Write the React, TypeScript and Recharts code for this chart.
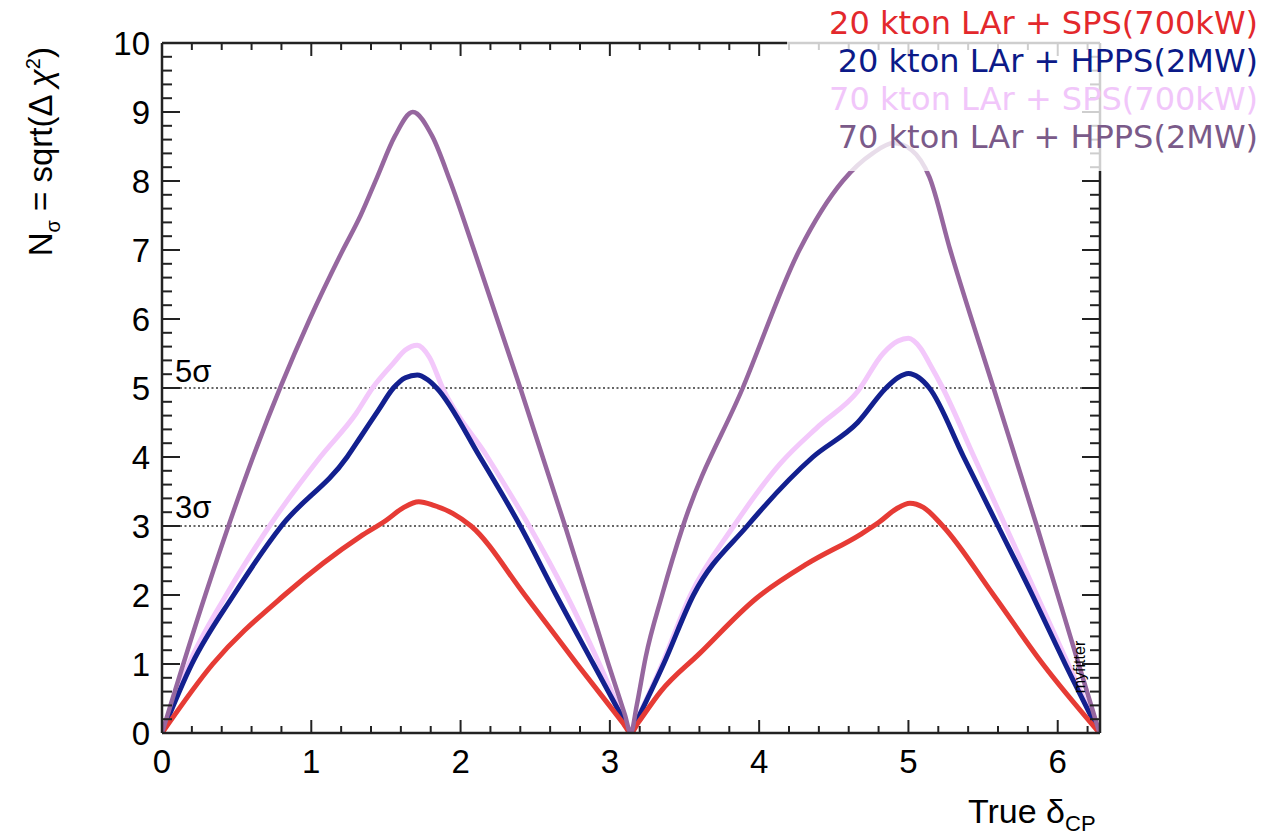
import React from 'react';
import { LineChart, Line, XAxis, YAxis, ReferenceLine } from 'recharts';

const X_MAX = 6.2832;

// 20 kton LAr + SPS(700kW)
const redX = [0, 0.34, 0.82, 1.33, 1.5, 1.62, 1.72, 1.82, 1.95, 2.07, 2.43, 2.78, 3.09, 3.14, 3.19, 3.34, 3.6, 3.98, 4.32, 4.68, 4.8, 4.92, 5.01, 5.1, 5.23, 5.57, 5.9, 6.28];
const redY = [0, 1, 2, 2.85, 3.08, 3.27, 3.35, 3.3, 3.18, 3.0, 2.0, 1.0, 0.14, 0, 0.15, 0.6, 1.15, 1.95, 2.45, 2.88, 3.05, 3.25, 3.33, 3.27, 3.0, 2.0, 1.0, 0];

// 20 kton LAr + HPPS(2MW)
const blueX = [0, 0.2, 0.48, 0.8, 1.24, 1.33, 1.45, 1.55, 1.63, 1.71, 1.78, 1.84, 2.13, 2.4, 2.64, 2.89, 3.09, 3.14, 3.19, 3.36, 3.56, 3.92, 4.36, 4.66, 4.85, 4.93, 5.0, 5.07, 5.14, 5.37, 5.6, 5.83, 6.05, 6.28];
const blueY = [0, 1, 2, 3, 4, 4.29, 4.68, 5, 5.15, 5.19, 5.12, 5, 4, 3, 2, 1, 0.2, 0, 0.22, 1, 2, 3, 4, 4.5, 5, 5.15, 5.21, 5.15, 5, 4, 3, 2, 1, 0];

// 70 kton LAr + SPS(700kW)
const pinkX = [0, 0.18, 0.43, 0.72, 1.06, 1.3, 1.41, 1.55, 1.63, 1.71, 1.79, 1.88, 2.18, 2.46, 2.71, 2.93, 3.09, 3.14, 3.19, 3.35, 3.54, 3.83, 4.14, 4.4, 4.66, 4.83, 4.93, 5.0, 5.08, 5.14, 5.23, 5.44, 5.65, 5.86, 6.07, 6.28];
const pinkY = [0, 1, 2, 3, 4, 4.63, 5, 5.36, 5.55, 5.62, 5.45, 5, 4, 3, 2, 1, 0.22, 0, 0.23, 1, 2, 3, 3.9, 4.45, 4.95, 5.5, 5.68, 5.72, 5.58, 5.36, 5, 4, 3, 2, 1, 0];

// 70 kton LAr + HPPS(2MW)
const purpleX = [0, 0.29, 0.61, 0.99, 1.2, 1.33, 1.44, 1.56, 1.68, 1.81, 1.93, 2.09, 2.4, 2.7, 2.99, 3.1, 3.14, 3.18, 3.24, 3.35, 3.49, 3.89, 4.27, 4.56, 4.76, 4.9, 5.02, 5.14, 5.28, 5.57, 5.86, 6.14, 6.28];
const purpleY = [0, 2, 4, 6, 6.95, 7.5, 8.05, 8.65, 9.0, 8.65, 8.0, 7, 5, 3, 1, 0.27, 0, 0.4, 1.1, 2, 3, 5, 7, 8, 8.4, 8.55, 8.45, 8.06, 7, 5, 3, 1, 0];

const seriesNames = ['20 kton LAr + SPS(700kW)', '20 kton LAr + HPPS(2MW)', '70 kton LAr + SPS(700kW)', '70 kton LAr + HPPS(2MW)'];
const lineColors = ['#e63b35', '#13208f', '#f3c8fb', '#96679f'];
const textColors = ['#e3282c', '#0c1a88', '#f1c6fa', '#7a5a89'];

// tick positions: every 0.2 (labels on the integers)
const xTicks = Array.from({ length: 32 }, (_, i) => Math.round(i * 2) / 10);
const yTicks = Array.from({ length: 51 }, (_, i) => Math.round(i * 2) / 10);

const sigmaLevels = [5, 3];
const sigmaLabels = ['5σ', '3σ'];

const toPts = (xs: number[], ys: number[]) => xs.map((x, i) => ({ x, y: ys[i] }));
const seriesData = [toPts(redX, redY), toPts(blueX, blueY), toPts(pinkX, pinkY), toPts(purpleX, purpleY)];
const drawOrder = [2, 1, 0, 3];
const widths = [5, 5, 5, 4.5];

const FONT = '"Liberation Sans", Arial, Helvetica, sans-serif';
const TICK = '#222';

const isMajor = (v: number) => Math.abs(v - Math.round(v)) < 1e-6;

const BottomTick = (p: any) => {
  const v = p.payload.value;
  const m = isMajor(v);
  return (
    <g>
      <line x1={p.x} y1={p.y} x2={p.x} y2={p.y - (m ? 13 : 7)} stroke={TICK} strokeWidth={2} />
      {m && (
        <text x={p.x} y={p.y + 40} textAnchor="middle" fontSize={33} fontFamily={FONT} fill="#000">{v}</text>
      )}
    </g>
  );
};
const TopTick = (p: any) => {
  const m = isMajor(p.payload.value);
  return <line x1={p.x} y1={p.y} x2={p.x} y2={p.y + (m ? 13 : 7)} stroke={TICK} strokeWidth={2} />;
};
const LeftTick = (p: any) => {
  const v = p.payload.value;
  const m = isMajor(v);
  return (
    <g>
      <line x1={p.x} y1={p.y} x2={p.x + (m ? 18 : 10)} y2={p.y} stroke={TICK} strokeWidth={2} />
      {m && (
        <text x={p.x - 12} y={p.y + 12} textAnchor="end" fontSize={33} fontFamily={FONT} fill="#000">{v}</text>
      )}
    </g>
  );
};
const RightTick = (p: any) => {
  const m = isMajor(p.payload.value);
  return <line x1={p.x} y1={p.y} x2={p.x - (m ? 18 : 10)} y2={p.y} stroke={TICK} strokeWidth={2} />;
};

export default function App() {
  const W = 1275;
  const H = 838;
  const axisLine = { stroke: TICK, strokeWidth: 2.5 };
  return (
    <div style={{ position: 'absolute', left: 0, top: 0, width: W, height: H, background: '#fff' }}>
      <LineChart width={W} height={H} margin={{ top: 33, right: 165, bottom: 55, left: 102 }}>
        <XAxis xAxisId="x" type="number" dataKey="x" domain={[0, X_MAX]} allowDataOverflow orientation="bottom" height={50}
          ticks={xTicks} interval={0} tickSize={0} tickMargin={0} tickLine={false} tick={BottomTick} axisLine={axisLine} />
        <XAxis xAxisId="xtop" type="number" dataKey="x" domain={[0, X_MAX]} allowDataOverflow orientation="top" height={10}
          ticks={xTicks} interval={0} tickSize={0} tickMargin={0} tickLine={false} tick={TopTick} axisLine={axisLine} />
        <YAxis yAxisId="y" type="number" domain={[0, 10]} allowDataOverflow orientation="left" width={60}
          ticks={yTicks} interval={0} tickSize={0} tickMargin={0} tickLine={false} tick={LeftTick} axisLine={axisLine} />
        <YAxis yAxisId="yright" type="number" domain={[0, 10]} allowDataOverflow orientation="right" width={10}
          ticks={yTicks} interval={0} tickSize={0} tickMargin={0} tickLine={false} tick={RightTick} axisLine={axisLine} />

        {sigmaLevels.map((lvl, i) => (
          <ReferenceLine key={lvl} y={lvl} xAxisId="x" yAxisId="y" stroke="#666" strokeWidth={2} strokeDasharray="2 2.5"
            label={(props: any) => {
              const vb = props.viewBox || {};
              return (
                <text x={(vb.x || 0) + 13} y={(vb.y || 0) - (lvl === 5 ? 6 : 8)} fontSize={31} fontFamily={FONT} fill="#000">
                  {sigmaLabels[i]}
                </text>
              );
            }} />
        ))}

        {drawOrder.map((s) => (
          <Line key={seriesNames[s]} name={seriesNames[s]} data={seriesData[s]} dataKey="y" xAxisId="x" yAxisId="y"
            type="monotone" stroke={lineColors[s]} strokeWidth={widths[s]} dot={false} activeDot={false}
            isAnimationActive={false} />
        ))}
      </LineChart>

      <svg width={W} height={H} style={{ position: 'absolute', left: 0, top: 0, pointerEvents: 'none' }}>
        <text transform="translate(52, 47) rotate(-90)" textAnchor="end" fontSize={33} fontFamily={FONT} fill="#000">
          N<tspan dy={8} fontSize={20}>σ</tspan><tspan dy={-8}> = sqrt(Δ </tspan><tspan fontStyle="italic">χ</tspan><tspan dy={-12} fontSize={20}>2</tspan><tspan dy={12}>)</tspan>
        </text>
        <text x={968} y={823} fontSize={34} fontFamily={FONT} fill="#000">
          True δ<tspan dy={8} fontSize={22}>CP</tspan>
        </text>
        <text transform="translate(1085, 667) rotate(-90)" textAnchor="middle" fontSize={16} fontFamily={FONT} fill="#000">myfitter</text>
        <rect x={787} y={0} width={488} height={171} fill="#fff" fillOpacity={0.78} />
        {seriesNames.map((n, i) => (
          <text key={n} x={1258} y={34 + i * 38} textAnchor="end" fontSize={32} fontFamily='"DejaVu Sans", Verdana, sans-serif' fill={textColors[i]}>
            {n}
          </text>
        ))}
      </svg>
    </div>
  );
}
